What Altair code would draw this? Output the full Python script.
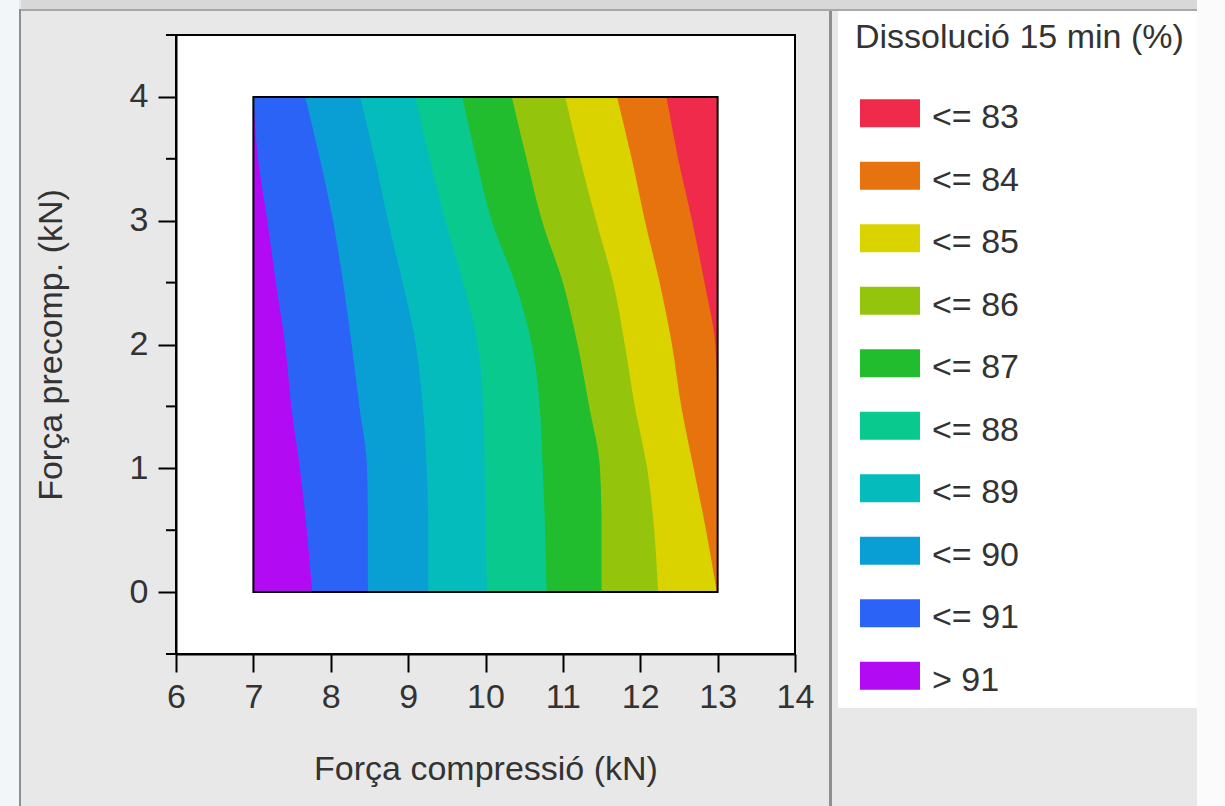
import altair as alt
import pandas as pd

FONT = "Liberation Sans, Arial, Helvetica, sans-serif"
TEXT = "#333333"

# ---- axes ----
X_DOMAIN = [6, 14]
Y_DOMAIN = [-0.5, 4.5]
X_TICKS = [6, 7, 8, 9, 10, 11, 12, 13, 14]
Y_TICKS = [0, 1, 2, 3, 4]
Y_MINOR = [-0.5, 0.5, 1.5, 2.5, 3.5, 4.5]

# ---- experimental region ----
GRID_X = [7, 13]
GRID_Y = [0, 4]

# ---- contour boundaries (x position of each level line, read at these y levels) ----
Y_LEVELS = [0, 0.5, 1, 1.5, 2, 2.5, 3, 3.5, 4]
B91 = [7.76, 7.69, 7.60, 7.49, 7.41, 7.29, 7.18, 7.06, 7.00]
B90 = [8.48, 8.48, 8.47, 8.37, 8.27, 8.16, 8.03, 7.86, 7.67]
B89 = [9.26, 9.26, 9.24, 9.19, 9.10, 8.93, 8.74, 8.57, 8.38]
B88 = [10.02, 10.00, 9.99, 9.97, 9.90, 9.71, 9.48, 9.28, 9.09]
B87 = [10.79, 10.77, 10.74, 10.70, 10.60, 10.38, 10.08, 9.88, 9.70]
B86 = [11.50, 11.50, 11.48, 11.34, 11.19, 11.00, 10.73, 10.53, 10.34]
B85 = [12.23, 12.18, 12.09, 11.93, 11.80, 11.65, 11.43, 11.22, 11.03]
B84 = [12.99, 12.85, 12.69, 12.53, 12.41, 12.25, 12.06, 11.89, 11.70]
B83 = [13.00, 13.00, 13.00, 13.00, 12.97, 12.83, 12.67, 12.49, 12.34]
LEFT_EDGE = [7, 7, 7, 7, 7, 7, 7, 7, 7]

# bands from left (high dissolution) to right (low dissolution)
BANDS = ["> 91", "<= 91", "<= 90", "<= 89", "<= 88", "<= 87", "<= 86", "<= 85", "<= 84", "<= 83"]
BAND_LEFT = [LEFT_EDGE, B91, B90, B89, B88, B87, B86, B85, B84, B83]
BAND_COLORS = ["#B20AF2", "#2B63F6", "#0A9FD4", "#05BCBC", "#0AC98E",
               "#21BD2F", "#95C40C", "#DAD300", "#E7730E", "#F02A4A"]

LEGEND_ORDER = BANDS[::-1]
LEGEND_COLORS = BAND_COLORS[::-1]

rows = []
for band, left in zip(BANDS, BAND_LEFT):
    for y, x in zip(Y_LEVELS, left):
        rows.append({"band": band, "y": y, "x": x, "x2": GRID_X[1]})
df = pd.DataFrame(rows)

OX, OY = 176, 35
W, H = 619, 619

# background panels of the window (pixel coordinates)
decor = pd.DataFrame([
    {"x": 0, "x2": 19, "y": 0, "y2": 806, "c": "#f3f6f9"},
    {"x": 19, "x2": 21, "y": 9, "y2": 806, "c": "#8f8f8f"},
    {"x": 21, "x2": 1197, "y": 0, "y2": 9, "c": "#d8d8d8"},
    {"x": 21, "x2": 1197, "y": 9, "y2": 11, "c": "#a8a8a8"},
    {"x": 829, "x2": 832, "y": 11, "y2": 806, "c": "#8f8f8f"},
    {"x": 838, "x2": 1197, "y": 11, "y2": 708, "c": "#ffffff"},
    {"x": 1197, "x2": 1225, "y": 0, "y2": 806, "c": "#fbfbfb"},
])
for col in ("x", "x2"):
    decor[col] = decor[col] - OX
for col in ("y", "y2"):
    decor[col] = decor[col] - OY

decor_layer = alt.Chart(decor).mark_rect(strokeWidth=0).encode(
    x=alt.X("x:Q", scale=None, axis=None),
    x2="x2:Q",
    y=alt.Y("y:Q", scale=None, axis=None),
    y2="y2:Q",
    fill=alt.Fill("c:N", scale=None, legend=None),
)

xscale = alt.Scale(domain=X_DOMAIN, nice=False, zero=False)
yscale = alt.Scale(domain=Y_DOMAIN, nice=False, zero=False)

x_axis = alt.Axis(
    values=X_TICKS, format="d", grid=False, tickSize=18, tickWidth=2, tickColor="black",
    domainColor="black", domainWidth=2, labelFont=FONT, labelFontSize=34, labelColor=TEXT,
    labelPadding=8, labelFlush=False, labelOverlap=False,
    title="Força compressió (kN)", titleFont=FONT, titleFontSize=34, titleFontWeight="normal",
    titleColor=TEXT, titleBaseline="alphabetic", titleY=125,
)
y_axis = alt.Axis(
    values=Y_TICKS, format="d", grid=False, tickSize=18, tickWidth=2, tickColor="black",
    domainColor="black", domainWidth=2, labelFont=FONT, labelFontSize=34, labelColor=TEXT,
    labelPadding=10, labelFlush=False, labelOverlap=False,
    title="Força precomp. (kN)", titleFont=FONT, titleFontSize=34, titleFontWeight="normal",
    titleColor=TEXT, titleBaseline="alphabetic", titleAngle=270, titleX=-115,
)

legend = alt.Legend(
    title="Dissolució 15 min (%)", orient="none", legendX=679, legendY=-14, padding=0,
    symbolType="M-1,-0.6267H1V0.3067H-1Z", symbolSize=3600, symbolStrokeWidth=0,
    symbolOffset=5, symbolOpacity=1,
    labelFont=FONT, labelFontSize=34, labelColor=TEXT, labelOffset=12, labelLimit=300,
    titleFont=FONT, titleFontSize=34, titleFontWeight="normal", titleColor=TEXT,
    titlePadding=33, titleLimit=500, rowPadding=15.5,
)

color = alt.Color("band:N", scale=alt.Scale(domain=LEGEND_ORDER, range=LEGEND_COLORS),
                  legend=legend)

band_layers = []
for band in BANDS:
    band_layers.append(
        alt.Chart(df).transform_filter(alt.datum.band == band)
        .mark_area(orient="horizontal", opacity=1, interpolate="monotone")
        .encode(
            y=alt.Y("y:Q", scale=yscale, axis=y_axis),
            x=alt.X("x:Q", scale=xscale, axis=x_axis),
            x2="x2:Q",
            color=color,
        )
    )

border_df = pd.DataFrame([{"x": GRID_X[0], "x2": GRID_X[1], "y": GRID_Y[0], "y2": GRID_Y[1]}])
border = alt.Chart(border_df).mark_rect(fillOpacity=0, stroke="black", strokeWidth=2).encode(
    x=alt.X("x:Q", scale=xscale, axis=x_axis), x2="x2:Q",
    y=alt.Y("y:Q", scale=yscale, axis=y_axis), y2="y2:Q",
)

minor_df = pd.DataFrame({"v": Y_MINOR})
minor = alt.Chart(minor_df).mark_rule(color="black", strokeWidth=2).encode(
    y=alt.Y("v:Q", scale=yscale, axis=y_axis),
    x=alt.value(-10), x2=alt.value(0),
)

chart = alt.layer(decor_layer, *band_layers, border, minor).properties(
    width=W, height=H,
    padding={"left": OX, "top": OY, "right": 1225 - OX - W, "bottom": 806 - OY - H},
    autosize=alt.AutoSizeParams(type="none"),
    background="#e8e8e8",
).configure_view(stroke="black", strokeWidth=2, fill="white")

chart.save("out.html", embed_options={"renderer": "svg", "actions": False})
